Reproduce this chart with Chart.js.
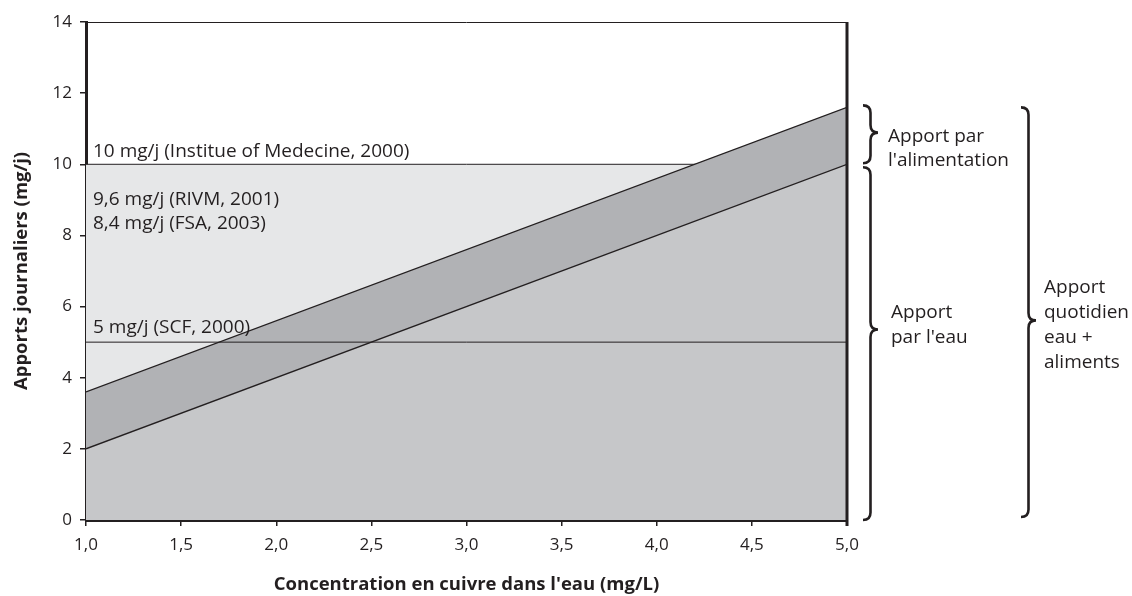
<!DOCTYPE html>
<html>
<head>
<meta charset="utf-8">
<script src="https://cdn.jsdelivr.net/npm/chart.js@4.4.1/dist/chart.umd.min.js"></script>
<style>
  html, body { margin: 0; background: #fff; }
  #wrap { width: 1132px; height: 596px; }
</style>
</head>
<body>
<div id="wrap"><canvas id="chart-cuivre"></canvas></div>
<script>
// concentration en cuivre (mg/L) et apports (mg/j)
const concentration = [1.0, 5.0];
const waterIntake   = [2.0, 10.0];
const totalIntake   = [3.6, 11.6];
const limitIOM = 10;
const limitSCF = 5;
const refLabels = [
  '10 mg/j (Institue of Medecine, 2000)',
  '9,6 mg/j (RIVM, 2001)',
  '8,4 mg/j (FSA, 2003)',
  '5 mg/j (SCF, 2000)'
];
const braceLabels = [
  ['Apport par', "l'alimentation"],
  ['Apport', "par l'eau"],
  ['Apport', 'quotidien', 'eau +', 'aliments']
];

const INK = '#231f20';
const FONT = "'Open Sans', sans-serif";
const pts = (ys) => concentration.map((x, i) => ({ x, y: ys[i] }));
const flat = (v) => concentration.map(x => ({ x, y: v }));

// accolade ouverte vers la droite, pointe à la fraction 'tip' de la hauteur
function drawBrace(c, x, y1, y2, w, tip) {
  const mid = y1 + (y2 - y1) * tip, h = w / 2;
  c.beginPath();
  c.moveTo(x, y1);
  c.quadraticCurveTo(x + h, y1, x + h, y1 + h);
  c.lineTo(x + h, mid - h);
  c.quadraticCurveTo(x + h, mid, x + w, mid);
  c.quadraticCurveTo(x + h, mid, x + h, mid + h);
  c.lineTo(x + h, y2 - h);
  c.quadraticCurveTo(x + h, y2, x, y2);
  c.stroke();
}

const decorations = {
  id: 'decorations',
  afterDraw(chart) {
    const c = chart.ctx, a = chart.chartArea;
    const ys = chart.scales.y;
    c.save();
    c.strokeStyle = INK;
    // cadre haut et droit
    c.lineWidth = 1;
    c.beginPath(); c.moveTo(a.left, a.top + 0.5); c.lineTo(a.right, a.top + 0.5); c.stroke();
    c.lineWidth = 3;
    c.beginPath(); c.moveTo(a.right, a.top); c.lineTo(a.right, a.bottom + 6); c.stroke();

    // libellés des limites
    c.fillStyle = INK;
    c.font = '19px ' + FONT;
    c.textBaseline = 'alphabetic';
    const lx = a.left + 7;
    const y10 = ys.getPixelForValue(limitIOM), y5 = ys.getPixelForValue(limitSCF);
    c.fillText(refLabels[0], lx, y10 - 7);
    c.fillText(refLabels[1], lx, y10 + 41);
    c.fillText(refLabels[2], lx, y10 + 65);
    c.fillText(refLabels[3], lx, y5 - 9);

    // accolades
    const yTot = ys.getPixelForValue(totalIntake[totalIntake.length - 1]);
    const yWat = ys.getPixelForValue(waterIntake[waterIntake.length - 1]);
    const y0 = ys.getPixelForValue(0);
    c.lineWidth = 2.6;
    drawBrace(c, a.right + 16, yTot - 2, yWat - 1, 15, 0.47);
    drawBrace(c, a.right + 16, yWat + 3, y0, 15, 0.46);
    drawBrace(c, a.right + 174, yTot, y0 - 3, 15, 0.52);

    const m1 = (yTot + yWat) / 2, m2 = (yWat + y0) / 2, m3 = (yTot + y0) / 2;
    braceLabels[0].forEach((t, i) => c.fillText(t, a.right + 41, m1 + 6 + i * 24));
    braceLabels[1].forEach((t, i) => c.fillText(t, a.right + 44, m2 - 24 + i * 25));
    braceLabels[2].forEach((t, i) => c.fillText(t, a.right + 197, m3 - 21 + i * 25));
    c.restore();
  }
};

new Chart(document.getElementById('chart-cuivre'), {
  type: 'line',
  data: {
    datasets: [
      { data: flat(limitIOM), fill: 'origin', backgroundColor: '#e6e7e8', borderColor: INK, borderWidth: 1, pointRadius: 0, order: 7 },
      { data: pts(waterIntake), fill: 'origin', backgroundColor: '#c6c7c9', borderWidth: 0, pointRadius: 0, order: 6 },
      { data: pts(totalIntake), fill: 1, backgroundColor: '#b1b2b5', borderWidth: 0, pointRadius: 0, order: 5 },
      { data: flat(limitSCF), fill: false, borderColor: INK, borderWidth: 1, pointRadius: 0, order: 4 },
      { data: pts(waterIntake), fill: false, borderColor: INK, borderWidth: 1.4, pointRadius: 0, order: 3 },
      { data: pts(totalIntake), fill: false, borderColor: INK, borderWidth: 1.4, pointRadius: 0, order: 2 }
    ]
  },
  options: {
    responsive: true,
    maintainAspectRatio: false,
    animation: false,
    layout: { padding: { top: 22, right: 285, left: 0, bottom: 0 } },
    plugins: { legend: { display: false }, tooltip: { enabled: false } },
    scales: {
      x: {
        type: 'linear', min: 1, max: 5,
        afterFit: (s) => { s.height = 76; },
        ticks: { stepSize: 0.5, color: INK, font: { family: FONT, size: 17 }, padding: 9,
                 maxRotation: 0, callback: v => v.toFixed(1).replace('.', ',') },
        grid: { drawOnChartArea: false, drawTicks: true, tickLength: 6, color: INK, lineWidth: 1.5 },
        border: { width: 3, color: INK },
        title: { display: true, text: "Concentration en cuivre dans l'eau (mg/L)", color: INK,
                 font: { family: FONT, size: 18.5, weight: 'bold' }, padding: { top: 0, bottom: 0 } }
      },
      y: {
        min: 0, max: 14,
        afterFit: (s) => { s.width = 86; },
        ticks: { stepSize: 2, color: INK, font: { family: FONT, size: 17 }, padding: 8 },
        grid: { drawOnChartArea: false, drawTicks: true, tickLength: 6, color: INK, lineWidth: 1.5 },
        border: { width: 3, color: INK },
        title: { display: true, text: 'Apports journaliers (mg/j)', color: INK,
                 font: { family: FONT, size: 18.5, weight: 'bold' }, padding: { top: 11, bottom: 0 } }
      }
    }
  },
  plugins: [decorations]
});
</script>
</body>
</html>
